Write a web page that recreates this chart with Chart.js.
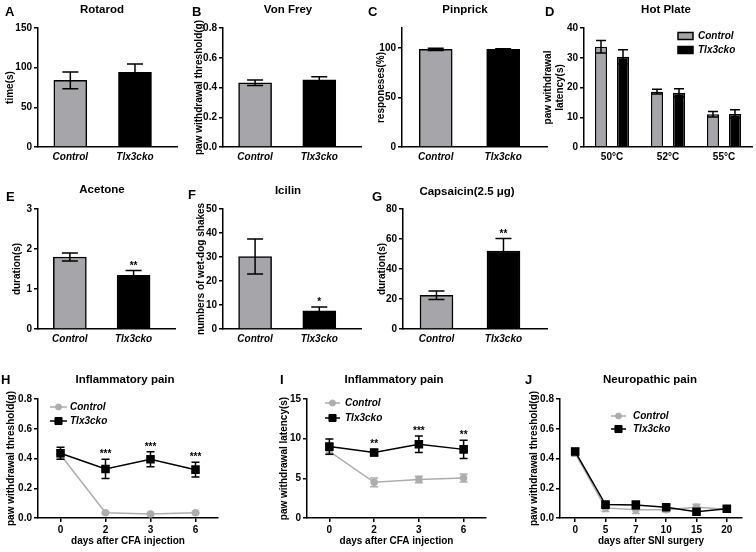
<!DOCTYPE html>
<html>
<head>
<meta charset="utf-8">
<script src="https://cdn.jsdelivr.net/npm/chart.js@4.4.1/dist/chart.umd.min.js"></script>
<style>
  body { margin: 0; background: #fff; width: 756px; height: 552px; position: relative; overflow: hidden;
         font-family: 'Liberation Sans', Arial, sans-serif; }
  canvas { position: absolute; }
  .lbl { position: absolute; font-weight: bold; color: #000; white-space: nowrap; line-height: 1; }
  .letter { font-size: 13px; transform: translateY(-50%); }
  .ttl { font-size: 11.5px; transform: translate(-50%, -50%); }
</style>
</head>
<body>
<script>
// groups used by every bar panel
var groups = ['Control', 'Tlx3cko'];

// A - Rotarod
var rotarodMean = [84, 94];
var rotarodSem = [10.5, 10.5];
// B - Von Frey
var vonFreyMean = [0.432, 0.452];
var vonFreySem = [0.018, 0.02];
// C - Pinprick
var pinprickMean = [98.5, 98.5];
var pinprickSem = [1.2, 0.6];
// D - Hot Plate
var hotPlateTemps = ['50°C', '52°C', '55°C'];
var hotPlateControl = [33.7, 18.6, 11.0];
var hotPlateControlSem = [2.1, 0.8, 0.9];
var hotPlateCko = [30.3, 18.2, 11.1];
var hotPlateCkoSem = [2.4, 1.4, 1.4];
// E - Acetone
var acetoneMean = [1.8, 1.34];
var acetoneSem = [0.1, 0.12];
var acetoneSig = ['', '**'];
// F - Icilin
var icilinMean = [30.2, 7.6];
var icilinSem = [7.3, 1.6];
var icilinSig = ['', '*'];
// G - Capsaicin
var capsaicinMean = [22.5, 52];
var capsaicinSem = [2.8, 8.3];
var capsaicinSig = ['', '**'];
// H - inflammatory pain, threshold
var cfaDays = ['0', '2', '3', '6'];
var cfaThrControl = [0.425, 0.035, 0.027, 0.035];
var cfaThrControlSem = [0.03, 0.004, 0.004, 0.004];
var cfaThrCko = [0.435, 0.33, 0.395, 0.325];
var cfaThrCkoSem = [0.04, 0.065, 0.05, 0.05];
var cfaThrSig = ['', '***', '***', '***'];
// I - inflammatory pain, latency
var cfaLatControl = [8.4, 4.5, 4.85, 5.05];
var cfaLatControlSem = [0.4, 0.55, 0.4, 0.5];
var cfaLatCko = [9.0, 8.25, 9.3, 8.65];
var cfaLatCkoSem = [0.95, 0.4, 1.05, 1.15];
var cfaLatSig = ['', '**', '***', '**'];
// J - neuropathic pain
var sniDays = ['0', '5', '7', '10', '15', '20'];
var sniControl = [0.435, 0.068, 0.056, 0.056, 0.072, 0.058];
var sniControlSem = [0.02, 0.025, 0.025, 0.015, 0.02, 0.015];
var sniCko = [0.447, 0.09, 0.088, 0.072, 0.042, 0.062];
var sniCkoSem = [0.02, 0.015, 0.025, 0.015, 0.01, 0.015];

var GREY = '#a6a6aa';
var LGREY = '#adadad';
var FONT = "'Liberation Sans', Arial, sans-serif";

Chart.defaults.font.family = FONT;
Chart.defaults.font.size = 10;
Chart.defaults.font.weight = 'bold';
Chart.defaults.color = '#000';

// error bars + significance stars
var errorBars = {
  id: 'errorBars',
  afterDatasetDraw: function (chart, args, opts) {
    var ds = chart.data.datasets[args.index];
    if (!ds.errors) return;
    var ctx = chart.ctx;
    var yScale = chart.scales.y;
    var half = opts.cap / 2;
    ctx.save();
    ctx.lineWidth = 1.5;
    args.meta.data.forEach(function (el, j) {
      var raw = ds.data[j];
      var v = typeof raw === 'object' ? raw.y : raw;
      var top = yScale.getPixelForValue(v + ds.errors[j]);
      var bot = yScale.getPixelForValue(v - ds.errors[j]);
      ctx.strokeStyle = ds.errorColor || '#000';
      ctx.beginPath();
      ctx.moveTo(el.x, top); ctx.lineTo(el.x, bot);
      ctx.moveTo(el.x - half, top); ctx.lineTo(el.x + half, top);
      ctx.moveTo(el.x - half, bot); ctx.lineTo(el.x + half, bot);
      ctx.stroke();
      if (ds.sig && ds.sig[j]) {
        ctx.fillStyle = '#000';
        ctx.font = 'bold 10px ' + FONT;
        ctx.textAlign = 'center';
        ctx.textBaseline = 'alphabetic';
        ctx.fillText(ds.sig[j], el.x, top - 2);
      }
    });
    ctx.restore();
  }
};

// small legend drawn inside the plot
var figLegend = {
  id: 'figLegend',
  afterDraw: function (chart, args, o) {
    if (!o.show) return;
    var ctx = chart.ctx, a = chart.chartArea;
    ctx.save();
    chart.data.datasets.forEach(function (ds, i) {
      var x = a.left + o.x;
      var y = a.top + o.y + i * o.gap;
      ctx.lineWidth = 1.5;
      ctx.strokeStyle = o.box ? '#000' : ds.borderColor;
      ctx.fillStyle = ds.legendColor || ds.backgroundColor;
      if (o.box) {
        ctx.fillRect(x, y - 3.5, 15, 7);
        ctx.strokeRect(x, y - 3.5, 15, 7);
      } else {
        ctx.beginPath();
        ctx.moveTo(x, y); ctx.lineTo(x + o.len, y);
        ctx.stroke();
        ctx.lineWidth = 1;
        Chart.helpers.drawPoint(ctx, { pointStyle: ds.pointStyle, radius: ds.pointRadius, borderWidth: 1, rotation: 0 }, x + o.len / 2, y);
      }
      ctx.fillStyle = '#000';
      ctx.font = 'italic bold 10px ' + FONT;
      ctx.textAlign = 'left';
      ctx.textBaseline = 'middle';
      ctx.fillText(ds.label, x + o.textX, y);
    });
    ctx.restore();
  }
};

function addCanvas(left, top, w, h) {
  var c = document.createElement('canvas');
  c.width = w; c.height = h;
  c.style.left = left + 'px'; c.style.top = top + 'px';
  c.style.width = w + 'px'; c.style.height = h + 'px';
  document.body.appendChild(c);
  return c;
}

function addText(cls, text, x, y) {
  var d = document.createElement('div');
  d.className = 'lbl ' + cls;
  d.textContent = text;
  d.style.left = x + 'px'; d.style.top = y + 'px';
  document.body.appendChild(d);
}

function yAxis(o) {
  var ax = {
    min: 0, max: o.max,
    ticks: { stepSize: o.step, padding: 2, includeBounds: false },
    grid: { drawOnChartArea: false, tickLength: 4, color: '#000', lineWidth: 1.5 },
    border: { color: '#000', width: 1.5 },
    title: { display: true, text: o.title, padding: { top: o.tpad, bottom: 0 }, font: { size: 10, weight: 'bold' } },
    afterFit: function (s) { s.width = o.yw; }
  };
  if (o.dec) ax.ticks.callback = function (v) { return v.toFixed(o.dec); };
  return ax;
}

function barPanel(o) {
  new Chart(addCanvas(o.left, o.top, o.w, o.h), {
    type: 'bar',
    data: {
      datasets: [{
        data: groups.map(function (g, i) { return { x: i, y: o.mean[i] }; }),
        errors: o.sem,
        sig: o.sig,
        backgroundColor: [GREY, '#000'],
        borderColor: '#000',
        borderWidth: 1.5,
        barThickness: 33
      }]
    },
    options: {
      responsive: false,
      animation: false,
      layout: { padding: { top: o.ptop, right: o.pright, left: 0, bottom: 0 } },
      plugins: { legend: { display: false }, tooltip: { enabled: false }, errorBars: { cap: 16 } },
      scales: {
        x: {
          type: 'linear', min: -0.5, max: 1.65, offset: false,
          grid: { display: false, drawTicks: false },
          border: { color: '#000', width: 1.5 },
          ticks: { padding: 4, font: { style: 'italic', weight: 'bold', size: 10 },
                   callback: function (v) { return groups[v]; } },
          afterBuildTicks: function (a) { a.ticks = groups.map(function (g, i) { return { value: i }; }); },
          afterFit: function (s) { s.height = o.xh; }
        },
        y: yAxis(o)
      }
    },
    plugins: [errorBars]
  });
}

function linePanel(o) {
  new Chart(addCanvas(o.left, o.top, o.w, o.h), {
    type: 'line',
    data: {
      labels: o.labels,
      datasets: [
        { label: 'Control', data: o.control, errors: o.controlSem, errorColor: LGREY,
          borderColor: LGREY, backgroundColor: LGREY, pointStyle: 'circle', pointRadius: 3,
          borderWidth: 1.5, tension: 0, order: 2 },
        { label: 'Tlx3cko', data: o.cko, errors: o.ckoSem, sig: o.sig,
          borderColor: '#000', backgroundColor: '#000', pointStyle: 'rect', pointRadius: 5,
          borderWidth: 1.5, tension: 0, order: 1 }
      ]
    },
    options: {
      responsive: false,
      animation: false,
      layout: { padding: { top: o.ptop, right: o.pright, left: 0, bottom: 0 } },
      plugins: { legend: { display: false }, tooltip: { enabled: false }, errorBars: { cap: 8 }, figLegend: o.legend },
      scales: {
        x: {
          offset: true,
          grid: { drawOnChartArea: false, tickLength: 4, color: '#000', lineWidth: 1.5 },
          border: { color: '#000', width: 1.5 },
          ticks: { padding: 2 },
          title: { display: true, text: o.xtitle, padding: { top: 0, bottom: 5 }, font: { size: 10, weight: 'bold' } },
          afterFit: function (s) { s.height = o.xh; }
        },
        y: yAxis(o)
      }
    },
    plugins: [errorBars, figLegend]
  });
}

// ---- row 1 ----
barPanel({ left: 0, top: 0, w: 185, h: 180, ptop: 28, pright: 8, xh: 33, yw: 38,
  mean: rotarodMean, sem: rotarodSem, max: 150, step: 50, title: 'time(s)', tpad: 4 });
barPanel({ left: 185, top: 0, w: 185, h: 180, ptop: 28, pright: 9, xh: 33, yw: 38,
  mean: vonFreyMean, sem: vonFreySem, max: 0.8, step: 0.2, dec: 1, title: 'paw withdrawal threshold(g)', tpad: 8 });
barPanel({ left: 370, top: 0, w: 185, h: 180, ptop: 28, pright: 8, xh: 33, yw: 32,
  mean: pinprickMean, sem: pinprickSem, max: 120, step: 50, title: 'responeses(%)', tpad: 5 });

// D - grouped bars
new Chart(addCanvas(530, 0, 226, 180), {
  type: 'bar',
  data: {
    labels: hotPlateTemps,
    datasets: [
      { label: 'Control', data: hotPlateControl, errors: hotPlateControlSem,
        backgroundColor: GREY, borderColor: '#000', borderWidth: 1.5 },
      { label: 'Tlx3cko', data: hotPlateCko, errors: hotPlateCkoSem,
        backgroundColor: '#000', borderColor: '#000', borderWidth: 1.5 }
    ]
  },
  options: {
    responsive: false,
    animation: false,
    categoryPercentage: 0.786,
    barPercentage: 0.545,
    layout: { padding: { top: 28, right: 4, left: 0, bottom: 0 } },
    plugins: { legend: { display: false }, tooltip: { enabled: false }, errorBars: { cap: 10 },
               figLegend: { show: true, box: true, x: 94, y: 8, gap: 14, textX: 20 } },
    scales: {
      x: {
        grid: { display: false, drawTicks: false },
        border: { color: '#000', width: 1.5 },
        ticks: { padding: 4 },
        afterFit: function (s) { s.height = 33; }
      },
      y: yAxis({ max: 40, step: 10, title: ['paw withdrawal', 'latency(s)'], tpad: 12, yw: 54 })
    }
  },
  plugins: [errorBars, figLegend]
});

// ---- row 2 ----
barPanel({ left: 0, top: 180, w: 185, h: 180, ptop: 29, pright: 10, xh: 31, yw: 38,
  mean: acetoneMean, sem: acetoneSem, sig: acetoneSig, max: 3, step: 1, title: 'duration(s)', tpad: 11 });
barPanel({ left: 185, top: 180, w: 185, h: 180, ptop: 29, pright: 9, xh: 31, yw: 38,
  mean: icilinMean, sem: icilinSem, sig: icilinSig, max: 50, step: 10, title: 'numbers of wet-dog shakes', tpad: 10 });
barPanel({ left: 370, top: 180, w: 185, h: 180, ptop: 29, pright: 8, xh: 31, yw: 33,
  mean: capsaicinMean, sem: capsaicinSem, sig: capsaicinSig, max: 80, step: 20, title: 'duration(s)', tpad: 6 });

// ---- row 3 ----
linePanel({ left: 0, top: 370, w: 250, h: 182, ptop: 29, pright: 32, xh: 34, yw: 38,
  labels: cfaDays, control: cfaThrControl, controlSem: cfaThrControlSem, cko: cfaThrCko, ckoSem: cfaThrCkoSem,
  sig: cfaThrSig, max: 0.8, step: 0.2, dec: 1, title: 'paw withdrawal threshold(g)', tpad: 5,
  xtitle: 'days after CFA injection',
  legend: { show: true, x: 12, y: 8, gap: 14, len: 17, textX: 20 } });
linePanel({ left: 250, top: 370, w: 250, h: 182, ptop: 29, pright: 14, xh: 34, yw: 57,
  labels: cfaDays, control: cfaLatControl, controlSem: cfaLatControlSem, cko: cfaLatCko, ckoSem: cfaLatCkoSem,
  sig: cfaLatSig, max: 15, step: 5, title: 'paw withdrawal latency(s)', tpad: 28,
  xtitle: 'days after CFA injection',
  legend: { show: true, x: 18, y: 4, gap: 15, len: 15, textX: 20 } });
linePanel({ left: 500, top: 370, w: 256, h: 182, ptop: 29, pright: 14, xh: 34, yw: 60,
  labels: sniDays, control: sniControl, controlSem: sniControlSem, cko: sniCko, ckoSem: sniCkoSem,
  max: 0.8, step: 0.2, dec: 1, title: 'paw withdrawal threshold(g)', tpad: 28,
  xtitle: 'days after SNI surgery',
  legend: { show: true, x: 51, y: 17, gap: 13, len: 15, textX: 22 } });

// panel letters and titles
addText('letter', 'A', 5, 11);
addText('letter', 'B', 192, 11);
addText('letter', 'C', 368, 11);
addText('letter', 'D', 545, 11);
addText('letter', 'E', 6, 196);
addText('letter', 'F', 188, 194);
addText('letter', 'G', 372, 196);
addText('letter', 'H', 1, 379);
addText('letter', 'I', 280, 379);
addText('letter', 'J', 525, 379);

addText('ttl', 'Rotarod', 102, 10);
addText('ttl', 'Von Frey', 288, 10);
addText('ttl', 'Pinprick', 465, 10);
addText('ttl', 'Hot Plate', 666, 10);
addText('ttl', 'Acetone', 102, 190);
addText('ttl', 'Icilin', 288, 191);
addText('ttl', 'Capsaicin(2.5 μg)', 467, 192);
addText('ttl', 'Inflammatory pain', 125, 380);
addText('ttl', 'Inflammatory pain', 394, 380);
addText('ttl', 'Neuropathic pain', 650, 380);
</script>
</body>
</html>
